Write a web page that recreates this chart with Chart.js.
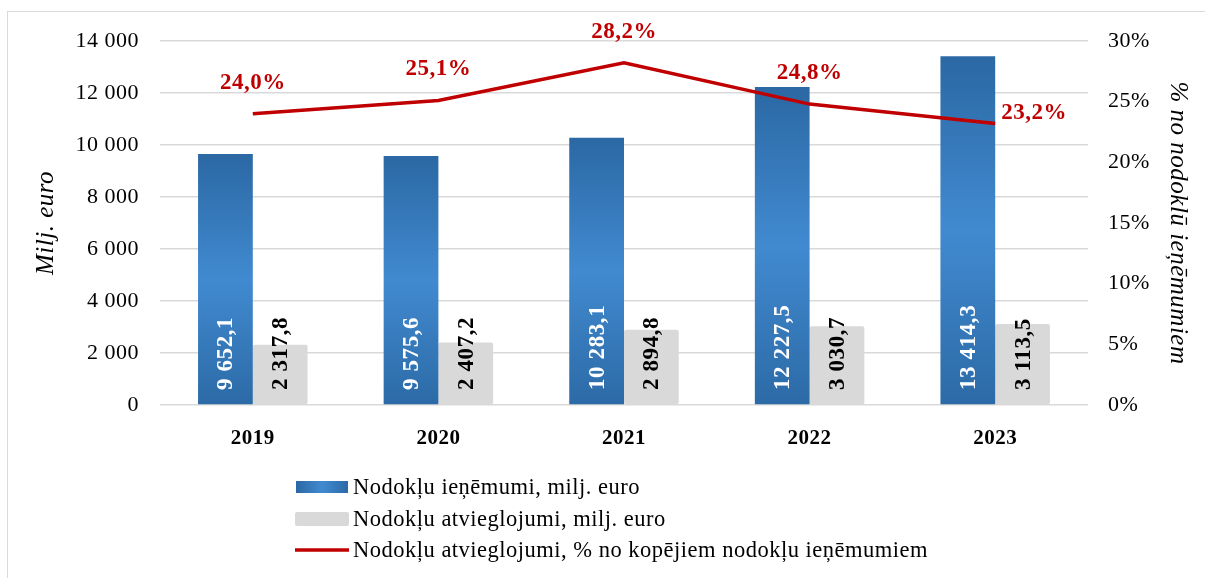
<!DOCTYPE html>
<html lang="lv">
<head>
<meta charset="utf-8">
<title>Nodokļu atvieglojumi</title>
<script src="https://cdn.jsdelivr.net/npm/chart.js@4.4.1/dist/chart.umd.min.js"></script>
<style>
    html, body { margin: 0; padding: 0; background: #fff; overflow: hidden; }
    #wrap { position: relative; width: 1205px; height: 578px; }
    #frame { position: absolute; left: 7px; top: 11px; width: 1300px; height: 700px; border: 1px solid #d9d9d9; box-sizing: border-box; }
    #grafiks { position: absolute; left: 0; top: 0; }
</style>
</head>
<body>
<div id="wrap">
    <div id="frame"></div>
    <canvas id="grafiks" width="1205" height="578"></canvas>
</div>
<script>
// ========== DATI ==========
const gadi = ['2019', '2020', '2021', '2022', '2023'];
const ienemumi = [9652.1, 9575.6, 10283.1, 12227.5, 13414.3];
const atvieglojumi = [2317.8, 2407.2, 2894.8, 3030.7, 3113.5];
const atvieglojumiProc = [24.0, 25.1, 28.2, 24.8, 23.2];

const FONTS = "'Liberation Serif', 'Times New Roman', serif";
const SARKANS = '#c00000';

// 9652.1 -> "9 652,1"
function formatetSkaitli(v, decimals) {
    const parts = v.toFixed(decimals).split('.');
    parts[0] = parts[0].replace(/\B(?=(\d{3})+(?!\d))/g, ' ');
    return parts.join(',');
}

function zilaisGradients(ctx, x0, y0, x1, y1) {
    const g = ctx.createLinearGradient(x0, y0, x1, y1);
    g.addColorStop(0, '#2b68a4');
    g.addColorStop(0.5, '#418ad0');
    g.addColorStop(1, '#2c6aa6');
    return g;
}

// nedaudz platāks burtu atstatums visam tekstam
const atstatumsPlugin = {
    id: 'atstatums',
    beforeDraw(chart) {
        chart.ctx.letterSpacing = '0.5px';
    }
};

// ========== UZRAKSTI UZ STABIEM UN LĪNIJAS ==========
const uzrakstiPlugin = {
    id: 'uzraksti',
    afterDatasetsDraw(chart, args, opts) {
        const ctx = chart.ctx;
        const y = chart.scales.y;
        const base = y.getPixelForValue(0);

        // vertikālie uzraksti stabu apakšā
        [0, 1].forEach(di => {
            const meta = chart.getDatasetMeta(di);
            const ds = chart.data.datasets[di];
            meta.data.forEach((el, i) => {
                ctx.save();
                ctx.translate(el.x, base - 15);
                ctx.rotate(-Math.PI / 2);
                ctx.letterSpacing = '0.6px';
                ctx.font = 'bold 23px ' + FONTS;
                ctx.fillStyle = di === 0 ? '#ffffff' : '#000000';
                ctx.textAlign = 'left';
                ctx.textBaseline = 'middle';
                ctx.fillText(formatetSkaitli(ds.data[i], 1), 0, 1);
                ctx.restore();
            });
        });

        // procentu uzraksti virs līnijas
        const metaL = chart.getDatasetMeta(2);
        const dsL = chart.data.datasets[2];
        metaL.data.forEach((pt, i) => {
            ctx.save();
            ctx.letterSpacing = '0.5px';
            ctx.font = 'bold 23px ' + FONTS;
            ctx.fillStyle = SARKANS;
            ctx.textBaseline = 'middle';
            const txt = formatetSkaitli(dsL.data[i], 1) + '%';
            if (opts.pa_labi.includes(i)) {
                ctx.textAlign = 'left';
                ctx.fillText(txt, pt.x + 6, pt.y - 10);
            } else {
                ctx.textAlign = 'center';
                ctx.fillText(txt, pt.x, pt.y - 31);
            }
            ctx.restore();
        });
    }
};

// ========== LEĢENDA ==========
const legendaPlugin = {
    id: 'legenda',
    afterDraw(chart) {
        const ctx = chart.ctx;
        const x = 296;
        const rindas = [487, 519, 550];
        const ds = chart.data.datasets;
        ctx.save();
        ctx.letterSpacing = '0.5px';
        ctx.font = '22.5px ' + FONTS;
        ctx.textBaseline = 'middle';
        ctx.textAlign = 'left';

        // zilais
        ctx.fillStyle = zilaisGradients(ctx, x, 0, x + 52, 0);
        ctx.fillRect(x, rindas[0] - 6, 52, 12);
        // pelēkais
        ctx.fillStyle = '#d9d9d9';
        ctx.beginPath();
        ctx.roundRect(x - 1, rindas[1] - 7, 54, 14, 2);
        ctx.fill();
        // sarkanā līnija
        ctx.strokeStyle = SARKANS;
        ctx.lineWidth = 3.5;
        ctx.beginPath();
        ctx.moveTo(x - 1, rindas[2]);
        ctx.lineTo(x + 53, rindas[2]);
        ctx.stroke();

        ctx.fillStyle = '#000';
        ds.forEach((d, i) => ctx.fillText(d.label, x + 57, rindas[i] + 1));
        ctx.restore();
    }
};

const ctxGrafiks = document.getElementById('grafiks');

new Chart(ctxGrafiks.getContext('2d'), {
    type: 'bar',
    data: {
        labels: gadi,
        datasets: [
            {
                label: 'Nodokļu ieņēmumi, milj. euro',
                data: ienemumi,
                yAxisID: 'y',
                order: 1,
                backgroundColor: function(context) {
                    if (context.type !== 'data') return '#3a7fc1';
                    const sc = context.chart.scales.y;
                    const top = sc.getPixelForValue(context.raw);
                    const bottom = sc.getPixelForValue(0);
                    if (!isFinite(top) || !isFinite(bottom) || top === bottom) return '#3a7fc1';
                    return zilaisGradients(context.chart.ctx, 0, top, 0, bottom);
                },
                barPercentage: 1,
                categoryPercentage: 0.59
            },
            {
                label: 'Nodokļu atvieglojumi, milj. euro',
                data: atvieglojumi,
                yAxisID: 'y',
                order: 1,
                backgroundColor: '#d9d9d9',
                borderRadius: 2,
                borderSkipped: false,
                barPercentage: 1,
                categoryPercentage: 0.59
            },
            {
                type: 'line',
                label: 'Nodokļu atvieglojumi, % no kopējiem nodokļu ieņēmumiem',
                data: atvieglojumiProc,
                yAxisID: 'y1',
                order: 0,
                borderColor: SARKANS,
                borderWidth: 3.5,
                pointRadius: 0,
                tension: 0,
                fill: false
            }
        ]
    },
    options: {
        responsive: false,
        animation: false,
        layout: { padding: { top: 41, left: 0, right: 0, bottom: 0 } },
        plugins: {
            legend: { display: false },
            tooltip: { enabled: false },
            uzraksti: { pa_labi: [4] }
        },
        scales: {
            x: {
                grid: { display: false },
                border: { display: false },
                ticks: {
                    color: '#000',
                    padding: 13,
                    font: { family: FONTS, size: 21, weight: 'bold' }
                },
                afterFit: function(s) { s.height = 173; }
            },
            y: {
                position: 'left',
                min: 0,
                max: 14000,
                grid: { color: '#d9d9d9', lineWidth: 1.4, drawTicks: false },
                border: { display: false },
                ticks: {
                    stepSize: 2000,
                    color: '#000',
                    padding: 21,
                    font: { family: FONTS, size: 22 },
                    callback: function(value) { return formatetSkaitli(value, 0); }
                },
                title: {
                    display: true,
                    text: 'Milj. euro',
                    color: '#000',
                    font: { family: FONTS, size: 25, style: 'italic' },
                    padding: { top: 31, bottom: 0 }
                },
                afterFit: function(s) { s.width = 160; }
            },
            y1: {
                position: 'right',
                min: 0,
                max: 30,
                grid: { display: false, drawTicks: false },
                border: { display: false },
                ticks: {
                    stepSize: 5,
                    color: '#000',
                    padding: 20,
                    font: { family: FONTS, size: 22 },
                    callback: function(value) { return value + '%'; }
                },
                title: {
                    display: true,
                    text: '% no nodoklū ieņēmumiem',
                    color: '#000',
                    font: { family: FONTS, size: 25, style: 'italic' },
                    padding: { top: 12, bottom: 0 }
                },
                afterFit: function(s) { s.width = 117; }
            }
        }
    },
    plugins: [atstatumsPlugin, uzrakstiPlugin, legendaPlugin]
});
</script>
</body>
</html>
